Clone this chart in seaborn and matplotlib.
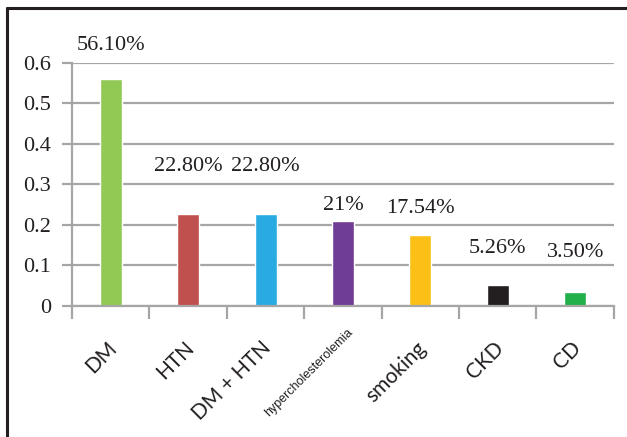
import pandas as pd
import seaborn as sns
import matplotlib
matplotlib.use("Agg")
import matplotlib.pyplot as plt
import matplotlib.transforms as mtransforms
from matplotlib.lines import Line2D

categories = ["DM", "HTN", "DM + HTN", "hypercholesterolemia", "smoking", "CKD", "CD"]
values = [0.561, 0.228, 0.228, 0.21, 0.1754, 0.0526, 0.035]
value_labels = ["56.10%", "22.80%", "22.80%", "21%", "17.54%", "5.26%", "3.50%"]
yticks = [0, 0.1, 0.2, 0.3, 0.4, 0.5, 0.6]

colors = ["#92c955", "#c0504d", "#29abe2", "#6f3c96", "#fcbf16", "#231f20", "#22b04b"]
# offsets (points) of the value labels above the bar tops, as placed in the original
label_offsets = [17, 27, 27, 4.5, 12, 19.5, 21.5]

df = pd.DataFrame({"category": categories, "value": values})

sns.set_style("white")
plt.rcParams["font.family"] = ["Liberation Serif", "DejaVu Serif"]

fig = plt.figure(figsize=(6.27, 4.37), dpi=100)
ax = fig.add_axes([0.115, 0.30, 0.864, 0.556])

sns.barplot(data=df, x="category", y="value", hue="category", palette=colors,
            width=0.285, legend=False, ax=ax, saturation=1)

grid_c = "#a6a6a6"
ax.set_ylim(0, 0.6)
ax.set_xlim(-0.5, len(categories) - 0.5)
ax.set_yticks(yticks)
ax.set_yticklabels([f"{v:g}" for v in yticks], fontsize=16, color="#231f20")
ax.yaxis.grid(True, color=grid_c, linewidth=1.6)
ax.set_axisbelow(True)
ax.tick_params(axis="y", length=7, width=1.6, color=grid_c, pad=8, direction="out", left=True)

# category labels, ticks at category boundaries
ax.set_xticks(range(len(categories)))
ax.set_xticks([i - 0.5 for i in range(len(categories) + 1)], minor=True)
ax.tick_params(axis="x", which="major", length=0, pad=28)
ax.tick_params(axis="x", which="minor", length=9.5, width=1.6, color=grid_c, direction="out", bottom=True)
for i, lbl in enumerate(ax.get_xticklabels()):
    lbl.set_rotation(45)
    lbl.set_ha("right")
    lbl.set_rotation_mode("anchor")
    lbl.set_va("center")
    lbl.set_color("#231f20")
    if categories[i] == "hypercholesterolemia":
        lbl.set_family(["Liberation Sans Narrow", "Liberation Sans"])
        lbl.set_fontsize(9)
        lbl.set_transform(lbl.get_transform() +
                          mtransforms.ScaledTranslation(0.08, 0.14, fig.dpi_scale_trans))
    else:
        lbl.set_family(["Lato", "DejaVu Sans"])
        lbl.set_fontsize(15)
        lbl.set_transform(lbl.get_transform() +
                          mtransforms.ScaledTranslation(0.025, 0.0, fig.dpi_scale_trans))

for s in ["top", "right"]:
    ax.spines[s].set_visible(False)
for s in ["left", "bottom"]:
    ax.spines[s].set_color(grid_c)
    ax.spines[s].set_linewidth(1.6)

ax.set_xlabel("")
ax.set_ylabel("")

for i, (v, t) in enumerate(zip(values, value_labels)):
    ax.annotate(t, (i, v), xytext=(0, label_offsets[i]), textcoords="offset points",
                ha="center", va="bottom", fontsize=16, color="#231f20")

# frame around the figure (left and top edges)
fig.add_artist(Line2D([7 / 627, 7 / 627], [0, 1 - 8 / 437], color="#231f20", linewidth=2.2,
                      transform=fig.transFigure))
fig.add_artist(Line2D([7 / 627, 1], [1 - 8 / 437, 1 - 8 / 437], color="#231f20", linewidth=2.2,
                      transform=fig.transFigure))

fig.savefig("out.png", dpi=100)
